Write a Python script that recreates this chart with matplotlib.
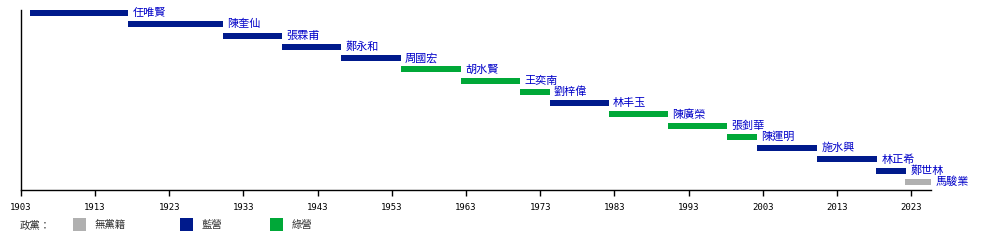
import matplotlib
matplotlib.use("Agg")
import matplotlib.pyplot as plt
from matplotlib.patches import Rectangle

plt.rcParams['font.family'] = ['Noto Sans CJK TC', 'DejaVu Sans']

names = ['任唯賢', '陳奎仙', '張霖甫', '鄭永和', '周國宏', '胡水賢', '王奕南', '劉梓偉',
         '林丰玉', '陳廣榮', '張釗華', '陳運明', '施水興', '林正希', '鄭世林', '馬駿業']
starts = [1904.25, 1917.5, 1930.2, 1938.2, 1946.2, 1954.2, 1962.3, 1970.3,
          1974.3, 1982.2, 1990.2, 1998.2, 2002.2, 2010.3, 2018.3, 2022.2]
ends = [1917.5, 1930.2, 1938.2, 1946.2, 1954.2, 1962.3, 1970.3, 1974.3,
        1982.2, 1990.2, 1998.2, 2002.2, 2010.3, 2018.4, 2022.3, 2025.65]
camps = ['藍營', '藍營', '藍營', '藍營', '藍營', '綠營', '綠營', '綠營',
         '藍營', '綠營', '綠營', '綠營', '藍營', '藍營', '藍營', '無黨籍']
legend_items = ['無黨籍', '藍營', '綠營']
legend_title = '政黨：'
tick_years = list(range(1903, 2024, 10))

colors = {'無黨籍': '#B0B0B0', '藍營': '#001A8C', '綠營': '#00A838'}
label_color = '#0000C8'

fig = plt.figure(figsize=(10, 2.4), dpi=100)
ax = fig.add_axes([0.0207, 50 / 240, 0.9103, 180 / 240])
ax.set_xlim(1903, 2025.65)
n = len(names)
ax.set_ylim(n - 1 + 0.71, -0.27)

for i, (nm, s, e, c) in enumerate(zip(names, starts, ends, camps)):
    ax.barh(i, e - s, left=s, height=0.53, color=colors[c], linewidth=0)
    ax.annotate(nm, xy=(e, i), xytext=(3, 0), textcoords='offset points',
                ha='left', va='center', fontsize=8, color=label_color)

for sp in ['top', 'right']:
    ax.spines[sp].set_visible(False)
ax.spines['left'].set_linewidth(1.0)
ax.spines['bottom'].set_linewidth(1.0)
ax.set_yticks([])
ax.set_xticks(tick_years)
ax.set_xticklabels([str(y) for y in tick_years], family='DejaVu Sans Mono', fontsize=6.5)
ax.tick_params(axis='x', length=4, width=1, pad=5)

# legend
fig.text(20 / 1000, 1 - 225 / 240, legend_title, fontsize=7.5, va='center', ha='left', color='#333333')
xs = [73, 180, 270]
for x0, item in zip(xs, legend_items):
    fig.add_artist(Rectangle((x0 / 1000, 1 - 231 / 240), 13 / 1000, 13 / 240,
                             transform=fig.transFigure, color=colors[item], linewidth=0))
    fig.text((x0 + 22) / 1000, 1 - 225 / 240, item, fontsize=7.5, va='center', ha='left', color='#333333')

fig.savefig('out.png', dpi=100)
